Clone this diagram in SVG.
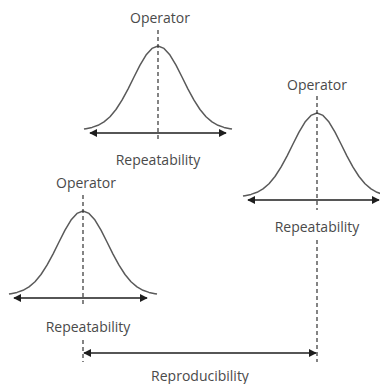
<svg xmlns="http://www.w3.org/2000/svg" xmlns:xlink="http://www.w3.org/1999/xlink" width="380" height="384" viewBox="0 0 380 384">
  <style>
    .curve { fill: none; stroke: #5a5a5a; stroke-width: 1.5; stroke-linejoin: round; }
    .axis { fill: none; stroke: #1e1e1e; stroke-width: 1.5; }
    .center { fill: none; stroke: #333; stroke-width: 1.2; stroke-dasharray: 4 3; }
    .label { font-family: "Open Sans", "Noto Sans", sans-serif; font-size: 14px; fill: #4a4a4a; text-anchor: middle; }
  </style>
  <defs>
    <marker id="head" viewBox="0 0 10 10" refX="9" refY="5" markerWidth="8" markerHeight="8" markerUnits="userSpaceOnUse" orient="auto-start-reverse">
      <path d="M0,0 L10,5 L0,10 Z" fill="#1e1e1e"/>
    </marker>
    <!-- bell curve, peak at (0,-84), baseline y=0 -->
    <path id="bell" class="curve" d="M-74,-0.9 L-72,-1.3 L-66,-2.6 L-60,-4.7 L-54,-8.1 L-48,-13.3 L-42,-20.5 L-36,-29.8 L-30,-40.9 L-24,-53 L-18,-64.8 L-12,-74.9 L-6,-81.6 L0,-84 L6,-81.6 L12,-74.9 L18,-64.8 L24,-53 L30,-40.9 L36,-29.8 L42,-20.5 L48,-13.3 L54,-8.1 L60,-4.7 L66,-2.6 L72,-1.3 L74,-0.9"/>
  </defs>

  <g id="operator-a">
    <use xlink:href="#bell" transform="translate(158,130)"/>
    <line class="center" x1="158" y1="30" x2="158" y2="141"/>
    <line class="axis" x1="90" y1="133" x2="226" y2="133" marker-start="url(#head)" marker-end="url(#head)"/>
    <text class="label" x="160" y="23">Operator</text>
    <text class="label" x="158" y="165">Repeatability</text>
  </g>

  <g id="operator-b">
    <use xlink:href="#bell" transform="translate(317,197)"/>
    <line class="center" x1="317" y1="96" x2="317" y2="210"/>
    <line class="axis" x1="248" y1="200" x2="379" y2="200" marker-start="url(#head)" marker-end="url(#head)"/>
    <text class="label" x="317" y="90">Operator</text>
    <text class="label" x="317" y="232">Repeatability</text>
  </g>

  <g id="operator-c">
    <use xlink:href="#bell" transform="translate(83,295)"/>
    <line class="center" x1="83" y1="195" x2="83" y2="306"/>
    <line class="axis" x1="14" y1="298" x2="147" y2="298" marker-start="url(#head)" marker-end="url(#head)"/>
    <text class="label" x="86" y="188">Operator</text>
    <text class="label" x="88" y="332">Repeatability</text>
  </g>

  <g id="connectors">
    <line class="center" x1="317" y1="240" x2="317" y2="362"/>
    <line class="center" x1="83" y1="340" x2="83" y2="362"/>
    <line class="axis" x1="84" y1="353" x2="316" y2="353" marker-start="url(#head)" marker-end="url(#head)"/>
    <text class="label" x="200" y="381">Reproducibility</text>
  </g>
</svg>
